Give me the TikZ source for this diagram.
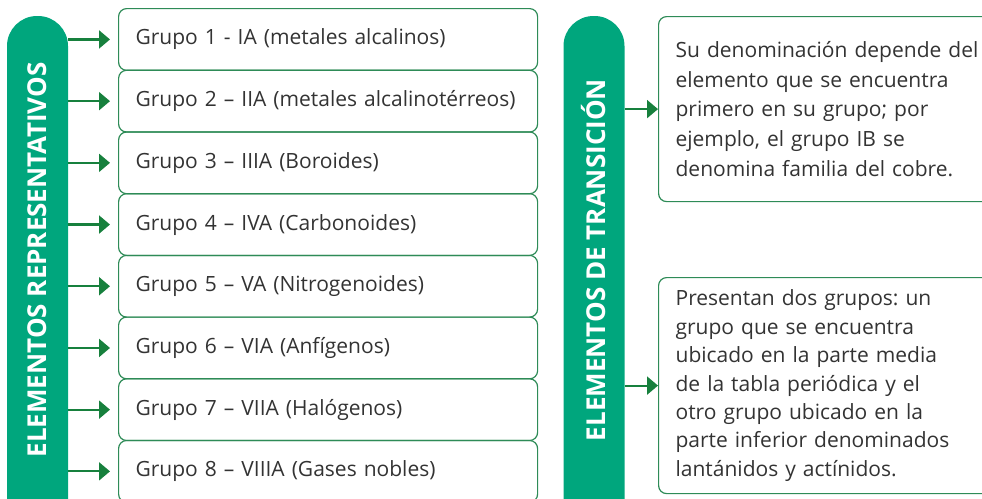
\documentclass[tikz,border=0pt]{standalone}
\usepackage{fontspec}
\setmainfont{Open Sans}
\usetikzlibrary{arrows.meta, positioning}
\definecolor{barGreen}{RGB}{0,166,125}
\definecolor{lineGreen}{RGB}{46,139,87}
\definecolor{arrowGreen}{RGB}{23,128,61}
\definecolor{txtGray}{RGB}{51,51,51}
\frenchspacing

\begin{document}
\begin{tikzpicture}[x=1pt,y=-1pt,
  bar/.style={fill=barGreen, rounded corners=30pt, minimum width=61pt, minimum height=514pt, inner sep=0pt},
  bartext/.style={rotate=90, text=white, font=\fontsize{26}{30}\selectfont\bfseries},
  grp/.style={draw=lineGreen, line width=1.2pt, rounded corners=8pt, anchor=north west, minimum width=419pt, minimum height=61.7pt, text width=385pt, inner xsep=17pt, inner ysep=0pt, align=left, text=txtGray, font=\fontsize{21}{25}\selectfont},
  info/.style={draw=lineGreen, line width=1.2pt, rounded corners=8pt, anchor=north west, minimum width=360pt, text width=326pt, inner xsep=17pt, inner ysep=0pt, align=left, text=txtGray},
  arr/.style={-{Triangle[length=11pt,width=18pt]}, line width=2.2pt, arrowGreen}]
\useasboundingbox (0,0) rectangle (982,498);
\clip (0,0) rectangle (982,498);
% bars
\node (rep) [bar] at (37.5,273) {};
\node (repT) [bartext] at (37.5,260) {ELEMENTOS REPRESENTATIVOS};
\node (tra) [bar] at (594,273) {};
\node (traT) [bartext] at (594,260) {ELEMENTOS DE TRANSICIÓN};
% groups
\node (g1) [grp] at (118,8) {Grupo 1 - IA (metales alcalinos)};
\node (g2) [grp] at (118,69.7) {Grupo 2 – IIA (metales alcalinotérreos)};
\node (g3) [grp] at (118,131.4) {Grupo 3 – IIIA (Boroides)};
\node (g4) [grp] at (118,193.1) {Grupo 4 – IVA (Carbonoides)};
\node (g5) [grp] at (118,254.8) {Grupo 5 – VA (Nitrogenoides)};
\node (g6) [grp] at (118,316.5) {Grupo 6 – VIA (Anfígenos)};
\node (g7) [grp] at (118,378.2) {Grupo 7 – VIIA (Halógenos)};
\node (g8) [grp] at (118,439.9) {Grupo 8 – VIIIA (Gases nobles)};
% transition
\node (t1) [info, minimum height=185pt, font=\fontsize{21}{29.8}\selectfont] at (658,16)
  {Su denominación depende del\\ elemento que se encuentra\\ primero en su grupo; por\\ ejemplo, el grupo IB se\\ denomina familia del cobre.};
\node (t2) [info, minimum height=216pt, font=\fontsize{21}{28.4}\selectfont] at (658,277)
  {Presentan dos grupos: un\\ grupo que se encuentra\\ ubicado en la parte media\\ de la tabla periódica y el\\ otro grupo ubicado en la\\ parte inferior denominados\\ lantánidos y actínidos.};
%Arrows:
\path [arr, shorten >=8pt]
(rep.east |- g1.west) edge (g1.west)
(rep.east |- g2.west) edge (g2.west)
(rep.east |- g3.west) edge (g3.west)
(rep.east |- g4.west) edge (g4.west)
(rep.east |- g5.west) edge (g5.west)
(rep.east |- g6.west) edge (g6.west)
(rep.east |- g7.west) edge (g7.west)
(rep.east |- g8.west) edge (g8.west)
;
\path [arr]
(tra.east |- t1.west) edge (t1.west)
(tra.east |- t2.west) edge (t2.west)
;
\end{tikzpicture}
\end{document}
